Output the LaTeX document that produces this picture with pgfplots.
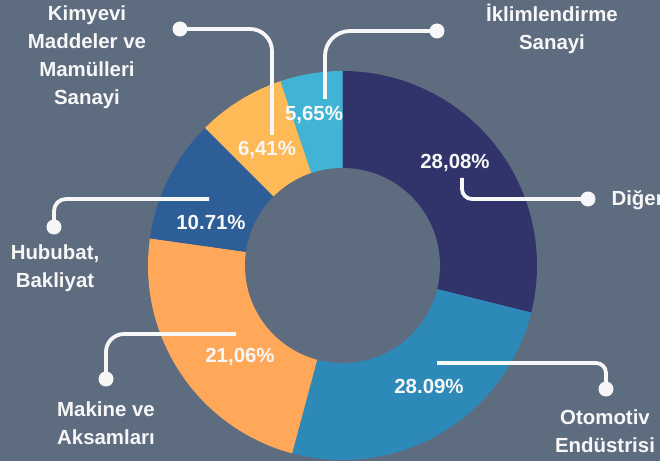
\documentclass[border=0pt]{standalone}
\usepackage{pgfplots}
\pgfplotsset{compat=1.18}
\usepackage{fontspec}
\setmainfont{Liberation Sans}
\definecolor{bg}{HTML}{5E6C80}
\definecolor{cDiger}{HTML}{30346B}
\definecolor{cOto}{HTML}{2C89B8}
\definecolor{cMak}{HTML}{FFA85A}
\definecolor{cHub}{HTML}{2D5E98}
\definecolor{cKim}{HTML}{FFBA58}
\definecolor{cIkl}{HTML}{41B4D6}
\definecolor{txt}{HTML}{F7F7F7}
% shares of the ring as drawn (percent), clockwise from the top
\def\vDiger{28.89}\def\vOto{25.28}\def\vMak{23.06}\def\vHub{10.28}\def\vKim{7.33}\def\vIkl{5.16}
\pgfmathsetmacro\aO{90}
\pgfmathsetmacro\aA{\aO-3.6*\vDiger}
\pgfmathsetmacro\aB{\aA-3.6*\vOto}
\pgfmathsetmacro\aC{\aB-3.6*\vMak}
\pgfmathsetmacro\aD{\aC-3.6*\vHub}
\pgfmathsetmacro\aE{\aD-3.6*\vKim}
\pgfmathsetmacro\aF{\aE-3.6*\vIkl}
\newcommand\lab{\fontsize{20.5}{28}\selectfont\bfseries}
\newcommand\ringpart[3]{\fill[#3] (axis cs:342.5,195.5) -- ++(#1:194.5bp) arc[start angle=#1, end angle=#2, radius=194.5bp] -- cycle;}
\begin{document}
\begin{tikzpicture}
\fill[bg] (0,0) rectangle (660bp,461bp);
\begin{axis}[x=1bp,y=1bp,xmin=0,xmax=660,ymin=0,ymax=461,hide axis,anchor=south west,at={(0,0)}]
\addplot[draw=none] coordinates {(0,0) (660,461)};
\ringpart{\aO}{\aA}{cDiger}
\ringpart{\aA}{\aB}{cOto}
\ringpart{\aB}{\aC}{cMak}
\ringpart{\aC}{\aD}{cHub}
\ringpart{\aD}{\aE}{cKim}
\ringpart{\aE}{\aF}{cIkl}
\fill[bg] (axis cs:342.5,195.5) circle[radius=97.5bp];
% connectors
\begin{scope}[draw=txt,line width=3.8bp]
\draw[rounded corners=22bp] (axis cs:180,432) -- (axis cs:272,432) -- (axis cs:272,326);
\draw[rounded corners=25bp] (axis cs:437,430) -- (axis cs:325,430) -- (axis cs:325,362);
\draw[rounded corners=10bp] (axis cs:462,283) -- (axis cs:462,262) -- (axis cs:588,262);
\draw[rounded corners=12bp] (axis cs:209,262) -- (axis cs:54,262) -- (axis cs:54,234);
\draw[rounded corners=18bp] (axis cs:236,127) -- (axis cs:106,127) -- (axis cs:106,82);
\draw[rounded corners=10bp] (axis cs:437,98) -- (axis cs:606,98) -- (axis cs:606,72);
\end{scope}
\fill[txt] (axis cs:180,432) circle[radius=7.5bp];
\fill[txt] (axis cs:437,430) circle[radius=7.5bp];
\fill[txt] (axis cs:588,262) circle[radius=7.5bp];
\fill[txt] (axis cs:54,234) circle[radius=7.5bp];
\fill[txt] (axis cs:106,82) circle[radius=7.5bp];
\fill[txt] (axis cs:606,72) circle[radius=7.5bp];
% category labels
\node[txt,align=center,font=\lab] at (axis cs:87,404) {Kimyevi\\Maddeler ve\\Mamülleri\\Sanayi};
\node[txt,align=center,font=\lab] at (axis cs:552,432) {İklimlendirme\\Sanayi};
\node[txt,anchor=west,font=\lab] at (axis cs:608,261) {Diğer};
\node[txt,align=center,font=\lab] at (axis cs:55,192.5) {Hububat,\\Bakliyat};
\node[txt,align=center,font=\lab] at (axis cs:106,37.5) {Makine ve\\Aksamları};
\node[txt,align=center,font=\lab] at (axis cs:605,29.5) {Otomotiv\\Endüstrisi};
% value labels
\node[txt,font=\lab] at (axis cs:455,298) {28,08\%};
\node[txt,font=\lab] at (axis cs:314,346) {5,65\%};
\node[txt,font=\lab] at (axis cs:267,311) {6,41\%};
\node[txt,font=\lab] at (axis cs:211,239) {10.71\%};
\node[txt,font=\lab] at (axis cs:240,104) {21,06\%};
\node[txt,font=\lab] at (axis cs:429,75) {28.09\%};
\end{axis}
\pgfresetboundingbox
\useasboundingbox (0,0) rectangle (660bp,461bp);
\end{tikzpicture}
\end{document}
